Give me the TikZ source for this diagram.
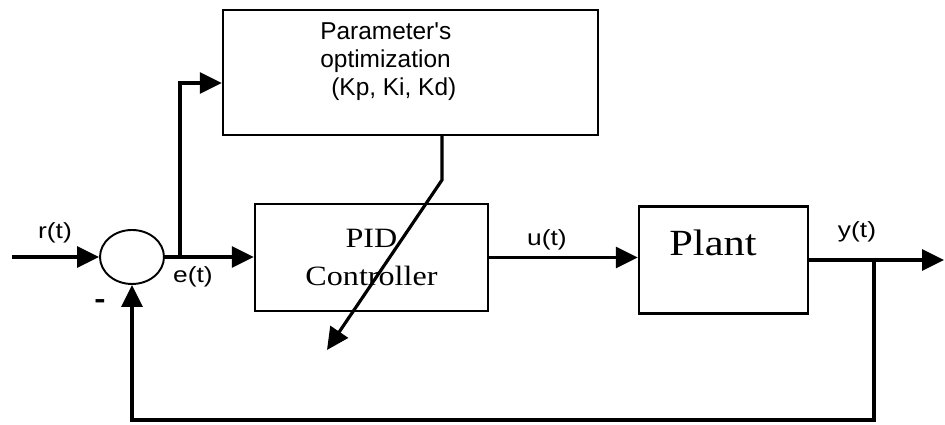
\documentclass[tikz,border=0pt]{standalone}
\usepackage{fontspec}
\setmainfont{Liberation Serif}
\setsansfont{Liberation Sans}
\newfontfamily\lblfont[FakeStretch=1.2]{Liberation Sans}
\newfontfamily\boxfont[FakeStretch=1.15]{Liberation Serif}
\usepackage{tikz}
\usetikzlibrary{arrows.meta,shapes.geometric}
\tikzset{
blk/.style={draw,line width=1.4pt,inner sep=0pt},
sig/.style={line width=1.8pt,-{Triangle[length=0.44cm,width=0.42cm]}},
wire/.style={line width=1.8pt},
lbl/.style={font=\lblfont\fontsize{12.5}{14}\selectfont,inner sep=0pt}
}
\begin{document}
\begin{tikzpicture}
\useasboundingbox (0,0) rectangle (18.9,8.5);
\node[blk,minimum width=7.5cm,minimum height=2.5cm](opt) at (8.21,7.05){};
\node[align=left,anchor=north west,inner sep=0pt,font=\sffamily\fontsize{13.9}{15.9}\selectfont](optlbl) at (6.4,8.05){Parameter\textquotesingle s\\optimization\\\hspace{0.22cm}(Kp, Ki, Kd)};
\node[ellipse,draw,line width=1.1pt,minimum width=1.28cm,minimum height=1.08cm,inner sep=0pt](sum) at (2.64,3.36){};
\node[blk,minimum width=4.66cm,minimum height=2.14cm,align=center,font=\boxfont\fontsize{15.9}{21.5}\selectfont](pid) at (7.43,3.35){PID\\Controller};
\node[blk,minimum width=3.38cm,minimum height=2.14cm](plant) at (14.47,3.3){};
\node[font=\boxfont\fontsize{21}{24}\selectfont](plantlbl) at (14.26,3.64){Plant};
\coordinate (in) at (0.24,3.36);
\coordinate (br) at (3.6,3.36);
\coordinate (optin) at ([yshift=-0.21cm]opt.west);
\coordinate (yb) at (17.48,3.3);
\coordinate (out) at (18.88,3.3);
\coordinate (fb) at (17.48,0.1);
\coordinate (kink) at (8.84,4.9);
\coordinate (tip) at (6.54,1.5);
\draw[sig](in)--(sum.west);
\draw[sig](sum.east)--(sum.east -| pid.west);
\draw[sig](br)|-(optin);
\draw[sig](pid.east)--(pid.east -| plant.west);
\draw[sig](plant.east)--(out);
\draw[sig](yb)--(fb)-|(sum.south);
\draw[sig](kink |- opt.south)--(kink)--(tip);
\node[lbl](rlbl) at (1.1,3.84){r(t)};
\node[lbl](elbl) at (3.86,2.96){e(t)};
\node[lbl](ulbl) at (10.94,3.7){u(t)};
\node[lbl](ylbl) at (17.14,3.86){y(t)};
\node[lbl,font=\lblfont\fontsize{16}{18}\selectfont](minus) at (2.0,2.42){\textbf{-}};
\end{tikzpicture}
\end{document}
